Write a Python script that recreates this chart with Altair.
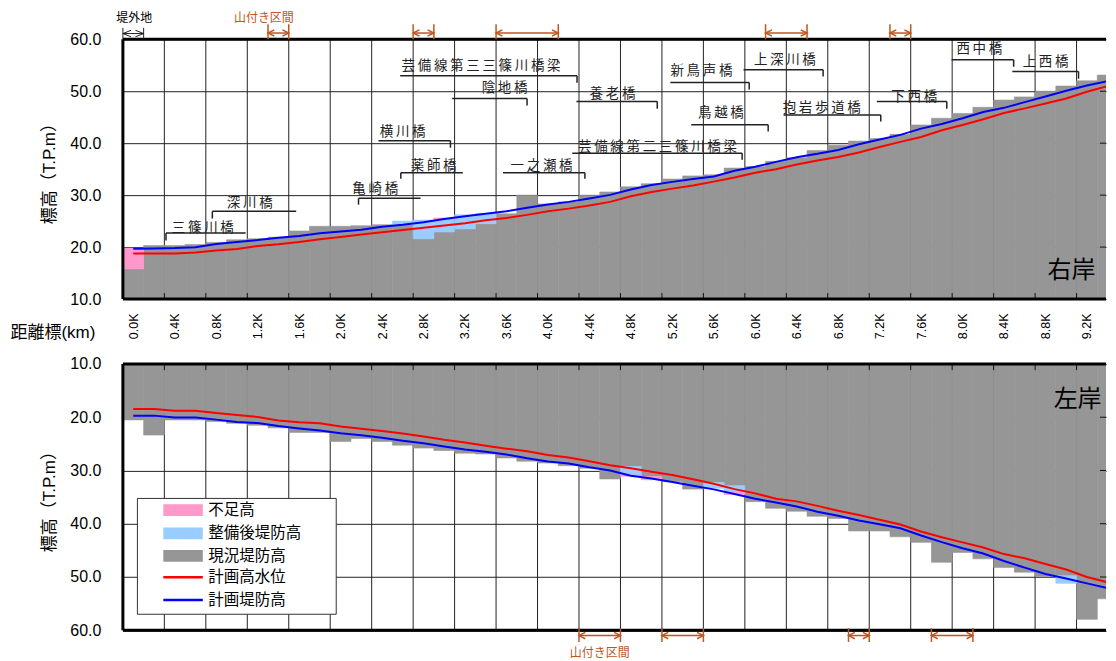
import altair as alt
import pandas as pd

# ---------------- data ----------------
KM = [0.0, 0.2, 0.4, 0.6, 0.8, 1.0, 1.2, 1.4, 1.6, 1.8, 2.0, 2.2, 2.4, 2.6, 2.8, 3.0,
      3.2, 3.4, 3.6, 3.8, 4.0, 4.2, 4.4, 4.6, 4.8, 5.0, 5.2, 5.4, 5.6, 5.8, 6.0, 6.2,
      6.4, 6.6, 6.8, 7.0, 7.2, 7.4, 7.6, 7.8, 8.0, 8.2, 8.4, 8.6, 8.8, 9.0, 9.2, 9.4]
TICK_KM = [0.0, 0.4, 0.8, 1.2, 1.6, 2.0, 2.4, 2.8, 3.2, 3.6, 4.0, 4.4, 4.8, 5.2, 5.6,
           6.0, 6.4, 6.8, 7.2, 7.6, 8.0, 8.4, 8.8, 9.2]
Y_TICKS = [10, 20, 30, 40, 50, 60]

# right bank (右岸)
R_LEVEE = [15.8, 20.3, 20.3, 20.5, 20.9, 21.4, 21.6, 21.9, 23.1, 24.0, 24.0, 24.1,
           24.3, 24.3, 21.6, 22.9, 23.5, 24.5, 26.4, 30.0, 28.3, 28.7, 30.0, 30.6,
           31.6, 32.2, 33.1, 33.7, 33.9, 35.2, 35.5, 36.5, 37.2, 38.6, 39.6, 40.4,
           40.9, 41.7, 43.5, 44.8, 45.7, 46.9, 48.3, 48.9, 50.0, 51.0, 52.0, 53.1]
R_PLAN = [19.7, 19.75, 19.8, 19.95, 20.6, 21.0, 21.35, 21.8, 22.15, 22.65, 23.0, 23.35,
          23.9, 24.3, 24.8, 25.4, 25.95, 26.4, 26.9, 27.55, 28.2, 28.7, 29.35, 30.05,
          31.1, 31.95, 32.55, 33.1, 33.6, 34.7, 35.45, 36.4, 37.3, 37.95, 38.7, 39.8,
          40.7, 41.6, 42.8, 43.7, 44.8, 46.0, 46.8, 47.9, 49.0, 50.1, 51.1, 51.95]
R_HWL = [18.75, 18.75, 18.75, 18.95, 19.35, 19.65, 20.2, 20.55, 21.0, 21.5, 21.95, 22.4,
         22.85, 23.3, 23.7, 24.15, 24.6, 25.15, 25.6, 26.2, 26.9, 27.4, 28.0, 28.7,
         29.8, 30.6, 31.25, 31.85, 32.6, 33.4, 34.3, 35.0, 35.9, 36.65, 37.35, 38.2,
         39.25, 40.25, 41.2, 42.5, 43.5, 44.6, 45.8, 46.7, 47.65, 48.6, 49.9, 51.0]
R_AFTER = [(2.6, 24.3, 25.0), (2.8, 21.6, 25.2), (3.0, 22.9, 25.3), (3.2, 23.5, 26.2),
           (3.4, 24.5, 26.5)]
R_SHORT = [(0.0, 15.8, 19.8), (3.0, 25.3, 25.6)]

# left bank (左岸)
L_LEVEE = [20.5, 23.35, 20.5, 20.5, 20.8, 21.15, 21.5, 22.0, 22.85, 22.85, 24.55, 24.0,
           24.55, 25.25, 25.8, 26.25, 26.75, 26.9, 27.65, 28.25, 28.6, 29.1, 29.6, 31.6,
           29.25, 31.15, 32.1, 33.5, 32.25, 32.85, 35.85, 37.1, 37.65, 38.6, 39.0, 41.35,
           41.35, 42.45, 43.5, 47.25, 45.4, 46.6, 48.2, 49.1, 49.9, 49.75, 57.95, 54.1]
L_PLAN = [19.7, 19.7, 20.05, 20.05, 20.45, 20.9, 21.1, 21.65, 22.1, 22.5, 23.0, 23.4,
          23.85, 24.4, 24.9, 25.5, 26.05, 26.5, 27.0, 27.7, 28.3, 28.7, 29.4, 30.0,
          31.0, 31.5, 32.15, 32.85, 33.55, 34.4, 35.3, 36.0, 36.75, 37.75, 38.5, 39.4,
          40.1, 40.85, 42.2, 43.45, 44.6, 45.6, 47.0, 48.25, 49.45, 50.3, 51.2, 52.1]
L_HWL = [18.45, 18.45, 18.8, 18.8, 19.2, 19.6, 19.95, 20.6, 20.95, 21.15, 21.75, 22.15,
         22.6, 23.05, 23.6, 24.25, 24.75, 25.35, 25.9, 26.4, 27.1, 27.55, 28.25, 29.0,
         29.6, 30.25, 30.85, 31.65, 32.5, 33.5, 34.3, 35.3, 35.8, 36.65, 37.55, 38.35,
         39.25, 40.15, 41.45, 42.55, 43.5, 44.45, 45.7, 46.5, 47.55, 48.6, 50.0, 51.0]
L_AFTER = [(4.8, 29.25, 30.85), (5.6, 32.25, 33.35), (5.8, 32.85, 34.1), (9.0, 49.75, 51.2)]
L_SHORT = [(4.8, 30.85, 31.1), (5.0, 31.15, 31.75), (5.8, 34.1, 34.5)]

KINDS = ["不足高", "整備後堤防高", "現況堤防高", "計画高水位", "計画堤防高"]

# bridges (right-bank panel)
BRIDGE_NAMES = ["三篠川橋", "深川橋", "亀崎橋", "横川橋", "薬師橋", "一之瀬橋",
                "芸備線第三三篠川橋梁", "陰地橋", "養老橋", "新鳥声橋", "鳥越橋",
                "芸備線第二三篠川橋梁", "上深川橋", "抱岩歩道橋", "下西橋", "西中橋", "上西橋"]
BRIDGE_KM = [0.316, 0.763, 2.173, 3.06, 2.581, 4.357, 4.281, 3.799, 5.055, 5.942,
             6.125, 5.874, 6.655, 7.211, 7.848, 8.493, 9.119]
LBL_TX = [0.671, 1.124, 2.334, 2.599, 2.898, 3.939, 3.355, 3.582, 4.623, 5.481,
          5.669, 5.057, 6.286, 6.642, 7.534, 8.162, 8.801]
LBL_TY = [23.75, 28.56, 31.25, 42.21, 35.67, 35.67, 54.77, 50.67, 49.52, 53.81,
          45.77, 39.19, 56.0, 46.77, 48.94, 58.12, 55.54]
LN_X1 = [0.316, 0.763, 2.173, 2.366, 2.581, 3.567, 2.575, 3.076, 4.275, 5.181,
         5.383, 4.235, 5.887, 6.273, 7.173, 7.895, 8.48]
LN_X2 = [1.084, 1.572, 2.771, 3.06, 3.179, 4.357, 4.281, 3.799, 5.055, 5.942,
         6.125, 5.874, 6.655, 7.211, 7.848, 8.493, 9.119]
LN_Y = [22.73, 26.88, 29.38, 40.48, 34.33, 34.33, 52.98, 48.62, 48.04, 51.69,
        43.56, 38.04, 54.13, 45.42, 48.04, 56.06, 53.81]
TK_Y2 = [21.25, 25.48, 28.17, 39.13, 33.17, 33.17, 51.63, 47.27, 46.63, 50.35,
         42.27, 36.83, 52.85, 44.19, 46.63, 54.71, 52.4]

TOP_YAMA = [(1.3, 1.5), (2.7, 2.9), (3.5, 4.1), (6.1, 6.5), (7.3, 7.5)]
BOT_YAMA = [(4.3, 4.7), (5.1, 5.5), (6.9, 7.1), (7.7, 8.1)]

# ---------------- style ----------------
XDOM = [-0.1, 9.384]
W = 984.0
H_TOP = 260
H_BOT = 266.5
GRAY = "#969696"
LBLUE = "#99ccff"
PINK = "#ff99cc"
RED = "#ff0000"
BLUE = "#0000ff"
BROWN = "#c0561e"
FONT_LAT = "Liberation Sans"
FONT_JP = "Noto Sans CJK JP"
FONT_MIX = "Liberation Sans, Noto Sans CJK JP"
HALF = 0.1

xscale = alt.Scale(domain=XDOM, nice=False, zero=False)


def seg_table(levee, after, short):
    rows = []
    for k, v in zip(KM, levee):
        rows.append({"x1": k - HALF, "x2": k + HALF, "lo": 10, "hi": v, "kind": "現況堤防高"})
    for k, lo, hi in after:
        rows.append({"x1": k - HALF, "x2": k + HALF, "lo": lo, "hi": hi, "kind": "整備後堤防高"})
    for k, lo, hi in short:
        rows.append({"x1": k - HALF, "x2": k + HALF, "lo": lo, "hi": hi, "kind": "不足高"})
    return pd.DataFrame(rows)


class Panel:
    def __init__(self, rev, top_axis):
        if rev:
            self.ys = alt.Scale(domain=[10, 60], nice=False, zero=False, reverse=True)
        else:
            self.ys = alt.Scale(domain=[10, 60], nice=False, zero=False)
        self.yaxis = alt.Axis(values=Y_TICKS, format=".1f", grid=True, gridColor="#222",
                              gridWidth=1, ticks=False, domain=False, labelFontSize=16,
                              labelFont=FONT_LAT, labelColor="black", labelPadding=22,
                              labelFlush=False, title="標高（T.P.m）", titleFont=FONT_MIX,
                              titleFontSize=17, titleFontWeight="normal", titleColor="black",
                              titlePadding=11)
        if top_axis:
            self.xaxis = alt.Axis(values=TICK_KM, labelExpr="format(datum.value,'.1f')+'K'",
                                  labelAngle=270, grid=False, ticks=False, domain=False,
                                  labelFontSize=12.5, labelFont=FONT_LAT, labelColor="black",
                                  labelPadding=14, labelFlush=False, labelOverlap=False,
                                  title=None)
        else:
            self.xaxis = None
        self.layers = []

    def X(self, f):
        return alt.X(f"{f}:Q", scale=xscale, axis=self.xaxis)

    def Y(self, f):
        return alt.Y(f"{f}:Q", scale=self.ys, axis=self.yaxis)

    def add(self, layer):
        self.layers.append(layer)


def build_panel(levee, plan, hwl, after, short, rev, bank_label, bank_pos, top_axis):
    p = Panel(rev, top_axis)
    vg = pd.DataFrame({"x": [k - HALF for k in TICK_KM[1:]], "a": 10, "b": 60})
    p.add(alt.Chart(vg).mark_rule(color="#222", strokeWidth=1).encode(
        x=p.X("x"), y=p.Y("a"), y2="b:Q"))

    segs = seg_table(levee, after, short)
    cscale = alt.Scale(domain=KINDS[:3], range=[PINK, LBLUE, GRAY])
    p.add(alt.Chart(segs).mark_rect(clip=True, strokeWidth=0.6).encode(
        x=p.X("x1"), x2="x2:Q", y=p.Y("lo"), y2="hi:Q",
        color=alt.Color("kind:N", scale=cscale, legend=None),
        stroke=alt.Stroke("kind:N", scale=cscale, legend=None)))

    for vals, col in ((hwl, RED), (plan, BLUE)):
        df = pd.DataFrame({"km": KM, "v": vals})
        p.add(alt.Chart(df).mark_line(color=col, strokeWidth=2, clip=True).encode(
            x=p.X("km"), y=p.Y("v")))

    tk = pd.DataFrame({"x": [k - HALF for k in TICK_KM[1:]], "a": 10, "b": 11.15})
    p.add(alt.Chart(tk).mark_rule(color="#111", strokeWidth=1).encode(
        x=p.X("x"), y=p.Y("a"), y2="b:Q"))
    rt = pd.DataFrame({"y": Y_TICKS[1:-1], "a": XDOM[1] - 0.058, "b": XDOM[1]})
    p.add(alt.Chart(rt).mark_rule(color="#111", strokeWidth=1).encode(
        x=p.X("a"), x2="b:Q", y=p.Y("y")))

    fr_v = pd.DataFrame({"x": [XDOM[0]], "a": [10], "b": [60]})
    p.add(alt.Chart(fr_v).mark_rule(color="black", strokeWidth=3).encode(
        x=p.X("x"), y=p.Y("a"), y2="b:Q"))
    fr_h = pd.DataFrame({"y": [10, 60], "a": XDOM[0], "b": XDOM[1]})
    p.add(alt.Chart(fr_h).mark_rule(color="black", strokeWidth=3).encode(
        x=p.X("a"), x2="b:Q", y=p.Y("y")))

    bl = pd.DataFrame({"x": [bank_pos[0]], "y": [bank_pos[1]], "t": [bank_label]})
    p.add(alt.Chart(bl).mark_text(font=FONT_JP, fontSize=24, color="black",
                                  align="center", baseline="middle").encode(
        x=p.X("x"), y=p.Y("y"), text="t:N"))
    return p


def add_yama(p, spans, yline, ylo, yhi):
    df = pd.DataFrame({"a": [s[0] for s in spans], "b": [s[1] for s in spans], "y": yline,
                       "lo": ylo, "hi": yhi})
    p.add(alt.Chart(df).mark_rule(color=BROWN, strokeWidth=1.5).encode(
        x=p.X("a"), x2="b:Q", y=p.Y("y")))
    for col in ("a", "b"):
        p.add(alt.Chart(df).mark_rule(color=BROWN, strokeWidth=1.5).encode(
            x=p.X(col), y=p.Y("lo"), y2="hi:Q"))
    p.add(alt.Chart(df).mark_point(shape="M2,-1L0,0L2,1", filled=False, size=40,
                                   color=BROWN, strokeWidth=1.5, opacity=1).encode(
        x=p.X("a"), y=p.Y("y")))
    p.add(alt.Chart(df).mark_point(shape="M-2,-1L0,0L-2,1", filled=False, size=40,
                                   color=BROWN, strokeWidth=1.5, opacity=1).encode(
        x=p.X("b"), y=p.Y("y")))


# ---------------- top panel (右岸) ----------------
pt = build_panel(R_LEVEE, R_PLAN, R_HWL, R_AFTER, R_SHORT, False, "右岸", (9.05, 15.3), True)

br = pd.DataFrame({"t": ["\u2009".join(n) for n in BRIDGE_NAMES], "tx": LBL_TX, "ty": LBL_TY,
                   "x1": LN_X1, "x2": LN_X2, "ly": LN_Y, "tk": BRIDGE_KM, "tb": TK_Y2})
pt.add(alt.Chart(br).mark_rule(color="#222", strokeWidth=1.5).encode(
    x=pt.X("x1"), x2="x2:Q", y=pt.Y("ly")))
pt.add(alt.Chart(br).mark_rule(color="#222", strokeWidth=1.5).encode(
    x=pt.X("tk"), y=pt.Y("ly"), y2="tb:Q"))
pt.add(alt.Chart(br).mark_text(font=FONT_JP, fontSize=13.5, color="#222",
                               align="center", baseline="middle").encode(
    x=pt.X("tx"), y=pt.Y("ty"), text="t:N"))

add_yama(pt, TOP_YAMA, 61.2, 60.0, 62.9)

notes_t = pd.DataFrame({"x": [1.26, 0.01], "y": [64.13, 64.13], "t": ["山付き区間", "堤外地"],
                        "c": [BROWN, "black"]})
pt.add(alt.Chart(notes_t).mark_text(font=FONT_JP, fontSize=12, align="center",
                                    baseline="middle").encode(
    x=pt.X("x"), y=pt.Y("y"), text="t:N", color=alt.Color("c:N", scale=None)))

tg = pd.DataFrame({"a": [-0.1], "b": [0.1], "y": [61.1], "lo": [60.0], "hi": [62.2]})
pt.add(alt.Chart(tg).mark_rule(color="#222", strokeWidth=1).encode(
    x=pt.X("a"), x2="b:Q", y=pt.Y("y")))
for col in ("a", "b"):
    pt.add(alt.Chart(tg).mark_rule(color="#222", strokeWidth=1).encode(
        x=pt.X(col), y=pt.Y("lo"), y2="hi:Q"))
pt.add(alt.Chart(tg).mark_point(shape="M3,-1.2L0,0L3,1.2", filled=False, size=30,
                                color="#222", strokeWidth=1, opacity=1).encode(
    x=pt.X("a"), y=pt.Y("y")))
pt.add(alt.Chart(tg).mark_point(shape="M-3,-1.2L0,0L-3,1.2", filled=False, size=30,
                                color="#222", strokeWidth=1, opacity=1).encode(
    x=pt.X("b"), y=pt.Y("y")))

dl = pd.DataFrame({"x": [-1.184], "y": [3.37], "t": ["距離標(km)"]})
pt.add(alt.Chart(dl).mark_text(font=FONT_MIX, fontSize=17, color="black",
                               align="left", baseline="middle").encode(
    x=pt.X("x"), y=pt.Y("y"), text="t:N"))

top = alt.layer(*pt.layers).properties(width=W, height=H_TOP)

# ---------------- bottom panel (左岸) ----------------
pb = build_panel(L_LEVEE, L_PLAN, L_HWL, L_AFTER, L_SHORT, True, "左岸", (9.11, 16.85), False)
add_yama(pb, BOT_YAMA, 61.0, 59.6, 62.2)
nb = pd.DataFrame({"x": [4.5], "y": [64.3], "t": ["山付き区間"]})
pb.add(alt.Chart(nb).mark_text(font=FONT_JP, fontSize=12, color=BROWN,
                               align="center", baseline="middle").encode(
    x=pb.X("x"), y=pb.Y("y"), text="t:N"))

# legend box
LEG_ROWS = [37.45, 41.8, 46.05, 50.05, 54.3]
box = pd.DataFrame({"a": [0.04], "b": [1.958], "lo": [35.25], "hi": [57.0]})
pb.add(alt.Chart(box).mark_rect(fill="white", stroke="#333", strokeWidth=1).encode(
    x=pb.X("a"), x2="b:Q", y=pb.Y("lo"), y2="hi:Q"))
sw = pd.DataFrame({"a": 0.29, "b": 0.671, "lo": [r - 1.1 for r in LEG_ROWS[:3]],
                   "hi": [r + 1.1 for r in LEG_ROWS[:3]], "k": KINDS[:3]})
pb.add(alt.Chart(sw).mark_rect().encode(
    x=pb.X("a"), x2="b:Q", y=pb.Y("lo"), y2="hi:Q",
    color=alt.Color("k:N", scale=alt.Scale(domain=KINDS[:3], range=[PINK, LBLUE, GRAY]),
                    legend=None)))
for row, col in ((LEG_ROWS[3], RED), (LEG_ROWS[4], BLUE)):
    ln = pd.DataFrame({"a": [0.29], "b": [0.671], "y": [row]})
    pb.add(alt.Chart(ln).mark_rule(color=col, strokeWidth=2.5).encode(
        x=pb.X("a"), x2="b:Q", y=pb.Y("y")))
lt = pd.DataFrame({"x": 0.724, "y": LEG_ROWS, "t": KINDS})
pb.add(alt.Chart(lt).mark_text(font=FONT_JP, fontSize=15.5, color="black",
                               align="left", baseline="middle").encode(
    x=pb.X("x"), y=pb.Y("y"), text="t:N"))

bottom = alt.layer(*pb.layers).properties(width=W, height=H_BOT)

chart = alt.vconcat(top, bottom, spacing=14).resolve_scale(
    x="independent", y="independent", color="independent", stroke="independent"
).configure(padding={"left": 2, "top": 3, "right": 0, "bottom": 0}
).configure_view(stroke=None)

chart.save("out.html", embed_options={"renderer": "svg", "actions": False})
